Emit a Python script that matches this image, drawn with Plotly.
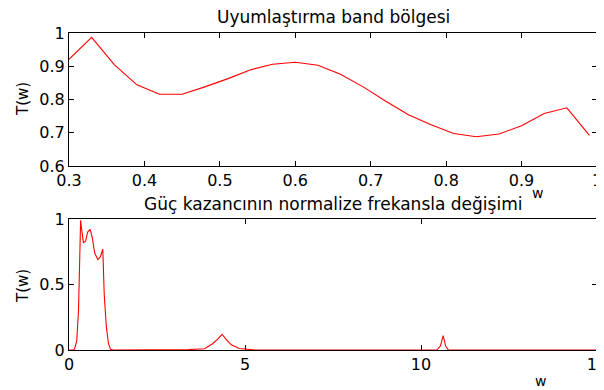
import plotly.graph_objects as go

# ---- data: top panel (matching band) ----
w_band = [0.30, 0.33, 0.36, 0.39, 0.42, 0.45, 0.48, 0.51, 0.54, 0.57, 0.60, 0.63,
          0.66, 0.69, 0.72, 0.75, 0.78, 0.81, 0.84, 0.87, 0.90, 0.93, 0.96, 0.99]
T_band = [0.921, 0.987, 0.905, 0.844, 0.816, 0.816, 0.838, 0.862, 0.889, 0.906, 0.912, 0.903,
          0.876, 0.838, 0.795, 0.754, 0.724, 0.698, 0.688, 0.696, 0.721, 0.758, 0.775, 0.692]

# ---- data: bottom panel (gain vs normalized frequency) ----
w_gain = [0.0, 0.12, 0.16, 0.22, 0.27, 0.30, 0.33, 0.36, 0.41, 0.47, 0.53, 0.60, 0.66,
          0.73, 0.82, 0.89, 0.96, 1.00, 1.06, 1.12, 1.18, 1.25, 3.40, 3.85, 4.09, 4.23,
          4.35, 4.45, 4.61, 4.84, 5.30, 10.45, 10.55, 10.63, 10.70, 10.78, 15.0]
T_gain = [0.0, 0.0, 0.01, 0.07, 0.30, 0.72, 0.99, 0.92, 0.82, 0.83, 0.90, 0.92, 0.86,
          0.74, 0.69, 0.71, 0.77, 0.43, 0.18, 0.05, 0.005, 0.0, 0.003, 0.01, 0.05, 0.085,
          0.12, 0.085, 0.04, 0.012, 0.0, 0.0, 0.03, 0.11, 0.03, 0.0, 0.0]

top_xticks = [0.3, 0.4, 0.5, 0.6, 0.7, 0.8, 0.9, 1.0]
top_xtext = ["0.3", "0.4", "0.5", "0.6", "0.7", "0.8", "0.9", "1"]
top_yticks = [0.6, 0.7, 0.8, 0.9, 1.0]
top_ytext = ["0.6", "0.7", "0.8", "0.9", "1"]
bot_xticks = [0, 5, 10, 15]
bot_xtext = ["0", "5", "10", "15"]
bot_yticks = [0, 0.5, 1]
bot_ytext = ["0", "0.5", "1"]

# page body has an 8px margin, so the figure is drawn at (8, 8)
OFF = 8
W, H = 604 - OFF, 390 - OFF
FONT = "DejaVu Sans"
RED = "#ff0000"

fig = go.Figure()
fig.add_trace(go.Scatter(x=w_band, y=T_band, mode="lines",
                         line=dict(color=RED, width=1.1), xaxis="x", yaxis="y",
                         showlegend=False, cliponaxis=True))
fig.add_trace(go.Scatter(x=w_gain, y=T_gain, mode="lines",
                         line=dict(color=RED, width=1.1), xaxis="x2", yaxis="y2",
                         showlegend=False, cliponaxis=False))

def px(x):
    return (x - OFF) / W

def py(y):
    return 1 - (y - OFF) / H

xdom = [px(69), px(597)]
top_ydom = [py(166), py(33)]
bot_ydom = [py(350), py(219)]

axis_common = dict(showgrid=False, zeroline=False, showline=True, linecolor="black",
                   linewidth=1, mirror="ticks", ticks="inside", ticklen=5,
                   tickcolor="black", automargin=False, ticklabeloverflow="allow",
                   tickfont=dict(family=FONT, size=16, color="black"))

fig.update_layout(
    width=W, height=H, margin=dict(l=0, r=0, t=0, b=0, autoexpand=False),
    paper_bgcolor="white", plot_bgcolor="white",
    xaxis=dict(domain=xdom, range=[0.3, 1.0000001], anchor="y",
               tickvals=top_xticks, ticktext=top_xtext, **axis_common),
    yaxis=dict(domain=top_ydom, range=[0.6, 1.0], anchor="x",
               tickvals=top_yticks, ticktext=top_ytext, **axis_common),
    xaxis2=dict(domain=xdom, range=[0, 15], anchor="y2",
                tickvals=bot_xticks, ticktext=bot_xtext, layer="below traces", **axis_common),
    yaxis2=dict(domain=bot_ydom, range=[0, 1.0], anchor="x2",
                tickvals=bot_yticks, ticktext=bot_ytext, **axis_common),
)

def ann(text, x, y, size, angle=0):
    fig.add_annotation(text=text, x=px(x), y=py(y), xref="paper", yref="paper",
                       showarrow=False, textangle=angle, xanchor="center", yanchor="middle",
                       font=dict(family=FONT, size=size, color="black"))

ann("Uyumlaştırma band bölgesi", 333, 17, 17)
ann("Güç kazancının normalize frekansla değişimi", 333, 204, 17)
ann("w", 537, 193, 14)
ann("w", 540, 381, 14)
ann("T(w)", 23, 99, 15, -90)
ann("T(w)", 23, 286, 15, -90)

fig.write_html("out.html")
